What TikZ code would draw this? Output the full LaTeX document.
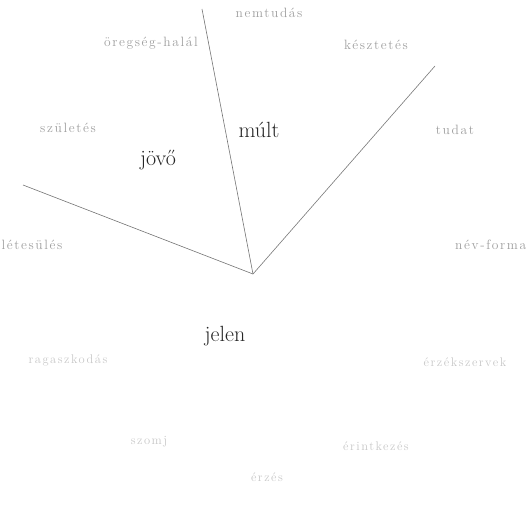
\documentclass[tikz,border=0pt]{standalone}
\usepackage{fontspec}
\setmainfont{Latin Modern Roman}[LetterSpace=12]
\begin{document}
\begin{tikzpicture}[x=1pt,y=-1pt,
  lbl/.style={text=black!38,font=\fontsize{13.5}{13.5}\selectfont,inner sep=0pt},
  faint/.style={text=black!22,font=\fontsize{12.5}{12.5}\selectfont,inner sep=0pt},
  big/.style={text=black!85,font=\fontsize{22}{22}\selectfont\addfontfeature{LetterSpace=0},inner sep=0pt},
  spoke/.style={draw=black!55,line width=0.6pt}]
\useasboundingbox (0,0) rectangle (531,511);
\coordinate (c) at (253,274);
\coordinate (t) at (202,9);
\coordinate (r) at (435,66);
\coordinate (l) at (23,185);
\draw[spoke] (c) -- (t);
\draw[spoke] (c) -- (r);
\draw[spoke] (c) -- (l);
\node[big] (mult) at (259,130) {múlt};
\node[big] (jovo) at (158,160) {jövő};
\node[big] (jelen) at (225,336) {jelen};
\node[lbl] (n1) at (269,13) {nemtudás};
\node[lbl] (n2) at (376,45) {késztetés};
\node[lbl] (n3) at (455,130) {tudat};
\node[lbl,anchor=west] (n4) at (455,245) {név-forma};
\node[faint] (n5) at (465,362) {érzékszervek};
\node[faint] (n6) at (376,446) {érintkezés};
\node[faint] (n7) at (267,477) {érzés};
\node[faint] (n8) at (149,442) {szomj};
\node[faint] (n9) at (68,360) {ragaszkodás};
\node[lbl] (n10) at (32,245) {létesülés};
\node[lbl] (n11) at (68,128) {születés};
\node[lbl] (n12) at (151,43) {öregség-halál};
\end{tikzpicture}
\end{document}
